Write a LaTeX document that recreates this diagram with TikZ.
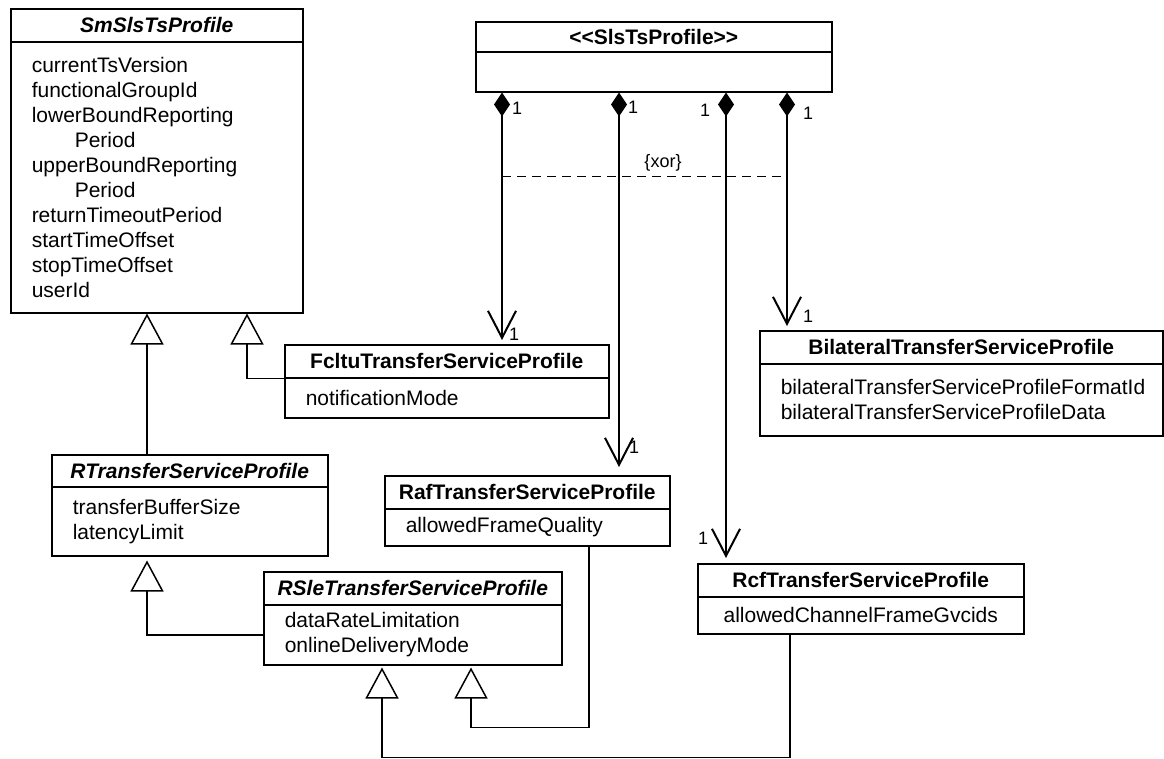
\documentclass[tikz,border=0pt]{standalone}
\usepackage{fontspec}
\setmainfont{Liberation Sans}
\usepackage{tikz}
\usetikzlibrary{arrows.meta,calc}

\tikzset{
    ctitle/.style={draw, line width=1.5pt, anchor=north west, inner sep=0pt,
        font=\fontsize{21}{25}\selectfont\bfseries},
    cbody/.style={draw, line width=1.5pt, anchor=north west, align=left,
        inner xsep=21pt, inner ysep=0pt, font=\fontsize{21}{25}\selectfont},
    mult/.style={inner sep=0pt, font=\fontsize{18}{20}\selectfont},
    comp/.style={line width=2pt, shorten >=4pt,
        {Diamond[length=24pt,width=16pt]}-{Straight Barb[length=27pt,width=28pt]}},
    gen/.style={line width=1.5pt, -{Triangle[length=31pt,width=33pt,fill=white]}},
    xorline/.style={line width=1pt, dash pattern=on 9pt off 6pt}
}

\begin{document}
\begin{tikzpicture}[x=1pt, y=-1pt]
    \useasboundingbox (0,0) rectangle (1164,758);

    % classes
    \node[ctitle, minimum width=292pt, minimum height=33pt] (smt) at (10,8) {\itshape SmSlsTsProfile};
    \node[cbody, text width=250pt, minimum height=271pt] (smb) at (10,41)
        {currentTsVersion\\functionalGroupId\\lowerBoundReporting\\\hspace*{43pt}Period\\
         upperBoundReporting\\\hspace*{43pt}Period\\returnTimeoutPeriod\\startTimeOffset\\
         stopTimeOffset\\userId};

    \node[ctitle, minimum width=356pt, minimum height=30pt] (slt) at (475,21) {<{}<SlsTsProfile>{}>};
    \node[cbody, text width=314pt, minimum height=40pt] (slb) at (475,51) {};

    \node[ctitle, minimum width=324pt, minimum height=33pt] (fct) at (284,344) {FcltuTransferServiceProfile};
    \node[cbody, text width=282pt, minimum height=40pt] (fcb) at (284,377) {notificationMode};

    \node[ctitle, minimum width=403pt, minimum height=33pt] (bit) at (759,330) {BilateralTransferServiceProfile};
    \node[cbody, text width=361pt, minimum height=72pt] (bib) at (759,363)
        {bilateralTransferServiceProfileFormatId\\bilateralTransferServiceProfileData};

    \node[ctitle, minimum width=276pt, minimum height=32pt] (rtt) at (51,454) {\itshape RTransferServiceProfile};
    \node[cbody, text width=234pt, minimum height=69pt] (rtb) at (51,486) {transferBufferSize\\latencyLimit};

    \node[ctitle, minimum width=285pt, minimum height=33pt] (raft) at (384,475) {RafTransferServiceProfile};
    \node[cbody, text width=243pt, minimum height=37pt] (rafb) at (384,508) {allowedFrameQuality};

    \node[ctitle, minimum width=298pt, minimum height=33pt] (rst) at (263,571) {\itshape RSleTransferServiceProfile};
    \node[cbody, text width=256pt, minimum height=60pt] (rsb) at (263,604) {dataRateLimitation\\onlineDeliveryMode};

    \node[ctitle, minimum width=326pt, minimum height=33pt] (rct) at (697,563) {RcfTransferServiceProfile};
    \node[cbody, align=center, text width=284pt, minimum height=37pt] (rcb) at (697,596) {allowedChannelFrameGvcids};

    % compositions
    \coordinate (c1) at ($(slb.south west)+(27,0)$);
    \coordinate (c2) at ($(slb.south west)+(144,0)$);
    \coordinate (c3) at ($(slb.south west)+(251,0)$);
    \coordinate (c4) at ($(slb.south west)+(312,0)$);
    \draw[comp] (c1) -- (c1 |- fct.north);
    \draw[comp, shorten >=8pt] (c2) -- (c2 |- raft.north);
    \draw[comp, shorten >=5pt] (c3) -- (c3 |- rct.north);
    \draw[comp] (c4) -- (c4 |- bit.north);
    \draw[xorline] ($(c1)+(0,84)$) coordinate (xa) -- (xa -| c4);
    \node[mult] (xor) at (663,163) {\{xor\}};

    \node[mult] (m1a) at (517,108) {1};
    \node[mult] (m2a) at (633,107) {1};
    \node[mult] (m3a) at (705,110) {1};
    \node[mult] (m4a) at (808,113) {1};
    \node[mult] (m1b) at (514,334) {1};
    \node[mult] (m2b) at (634,447) {1};
    \node[mult] (m3b) at (703,538) {1};
    \node[mult] (m4b) at (808,316) {1};

    % generalizations
    \draw[gen] ($(rtt.north west)+(96,0)$) coordinate (ga) -- (ga |- smb.south);
    \draw[gen] (fct.south west) -| ($(smb.south west)+(237,0)$);
    \draw[gen, shorten >=4pt] (rsb.west) -| ($(rtb.south west)+(96,0)$);
    \draw[gen, shorten >=2pt] ($(rafb.south west)+(205,0)$) -- ++(0,181) -| ($(rsb.south west)+(208,0)$);
    \draw[gen, shorten >=2pt] ($(rcb.south west)+(93,0)$) -- ++(0,123) -| ($(rsb.south west)+(119,0)$);
\end{tikzpicture}
\end{document}
